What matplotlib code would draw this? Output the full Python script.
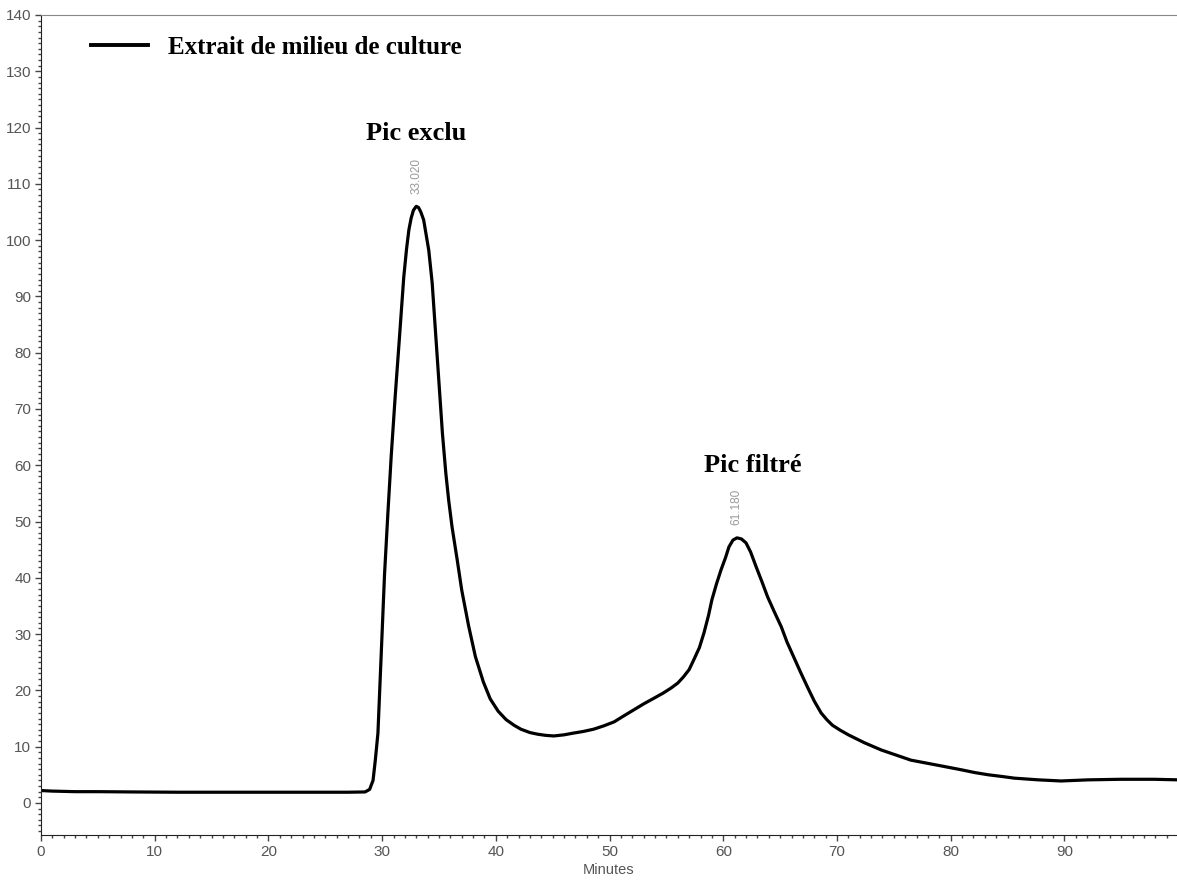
import numpy as np
import matplotlib.pyplot as plt
from matplotlib.ticker import MultipleLocator

# chromatogram (minutes, signal)
minutes = [0, 1, 3, 5, 8, 12, 16, 20, 24, 27, 28.5, 28.9, 29.2, 29.4, 29.63, 29.92,
           30.21, 30.5, 30.8, 31.15, 31.53, 31.9, 32.15, 32.35, 32.55, 32.75, 33.0,
           33.2, 33.4, 33.65, 34.1, 34.4, 34.7, 35.0, 35.3, 35.6, 35.85, 36.15,
           36.6, 37.0, 37.6, 38.2, 38.9, 39.5, 40.2, 40.9, 41.6, 42.2, 43.0, 43.7,
           44.4, 45.1, 46.0, 46.8, 47.7, 48.6, 49.5, 50.4, 51.2, 52.1, 53.0, 53.9,
           54.7, 55.4, 56.0, 56.5, 57.0, 57.4, 57.9, 58.3, 58.7, 59.0, 59.4, 59.8,
           60.2, 60.5, 60.85, 61.2, 61.6, 62.0, 62.4, 62.9, 63.4, 63.9, 64.5, 65.1,
           65.6, 66.2, 66.8, 67.4, 68.0, 68.6, 69.1, 69.6, 70.3, 71.0, 71.7, 72.4,
           73.9, 75.2, 76.5, 77.8, 79.1, 80.9, 82.1, 83.3, 84.5, 85.6, 87.7, 89.7,
           92.1, 95.0, 97.9, 100]
signal = [2.2, 2.1, 2.0, 2.0, 1.95, 1.9, 1.9, 1.9, 1.9, 1.9, 1.95, 2.4, 4.0, 7.6, 12.4, 26.5,
          40.6, 51.3, 61.7, 72.3, 82.9, 93.4, 98.5, 101.8, 103.9, 105.3, 106.0,
          105.8, 105.0, 103.6, 98.2, 92.4, 83.5, 74.6, 65.7, 58.6, 53.8, 49.0,
          43.2, 37.8, 31.5, 26.0, 21.5, 18.5, 16.3, 14.8, 13.8, 13.1, 12.5, 12.2,
          12.0, 11.9, 12.1, 12.4, 12.7, 13.1, 13.7, 14.4, 15.4, 16.5, 17.6, 18.6,
          19.5, 20.4, 21.3, 22.4, 23.7, 25.4, 27.6, 30.2, 33.3, 36.1, 38.9, 41.4,
          43.6, 45.5, 46.7, 47.1, 46.9, 46.2, 44.6, 41.9, 39.3, 36.6, 33.9, 31.3,
          28.6, 25.9, 23.2, 20.6, 18.1, 16.0, 14.8, 13.8, 12.9, 12.1, 11.4, 10.7,
          9.4, 8.5, 7.6, 7.1, 6.6, 5.9, 5.4, 5.0, 4.7, 4.4, 4.1, 3.9,
          4.1, 4.2, 4.2, 4.1]

peak_times = [33.02, 61.18]
peak_heights = [106.0, 47.1]
peak_names = ['Pic exclu', 'Pic filtré']
series_name = 'Extrait de milieu de culture'

fig = plt.figure(figsize=(11.77, 8.8), dpi=100)
ax = fig.add_axes([41/1177, 45/880, 1 - 41/1177, 820/880])

ax.plot(minutes, signal, color='black', lw=2.3, solid_joinstyle='round')

ax.set_xlim(0, 99.9)
ax.set_ylim(-5.7, 140)
ax.xaxis.set_major_locator(MultipleLocator(10))
ax.xaxis.set_minor_locator(MultipleLocator(1))
ax.yaxis.set_major_locator(MultipleLocator(10))
ax.yaxis.set_minor_locator(MultipleLocator(1))
ax.tick_params(which='major', length=4, width=1, color='#444', labelcolor='#555',
               labelsize=11, pad=3)
ax.tick_params(which='minor', length=2, width=1, color='#444')
for lab in ax.get_xticklabels() + ax.get_yticklabels():
    lab.set_family('Liberation Sans')

ax.spines['right'].set_visible(False)
ax.spines['top'].set_color('#888')
ax.spines['left'].set_color('#222')
ax.spines['bottom'].set_color('#222')

ax.set_xlabel('Minutes', fontsize=10.5, color='#555', family='Liberation Sans', labelpad=3)

# peak labels
label_pos = [(33.0, 119.0), (62.6, 59.9)]
for (t, h, name), (lx, ly) in zip(zip(peak_times, peak_heights, peak_names), label_pos):
    ax.text(t, h + 2.2, f'{t:.3f}', rotation=90, ha='center', va='bottom',
            fontsize=8.5, color='#999', family='Liberation Sans')
    ax.text(lx, ly, name, ha='center', va='center',
            fontsize=19, fontweight='bold', family='Liberation Serif')

ax.legend([plt.Line2D([], [], color='black', lw=2.8)], [series_name],
          loc='upper left', bbox_to_anchor=(0.024, 1.002), frameon=False,
          handlelength=2.3, handletextpad=0.8,
          prop={'family': 'Liberation Serif', 'weight': 'bold', 'size': 18})

fig.savefig('out.png', dpi=100)
